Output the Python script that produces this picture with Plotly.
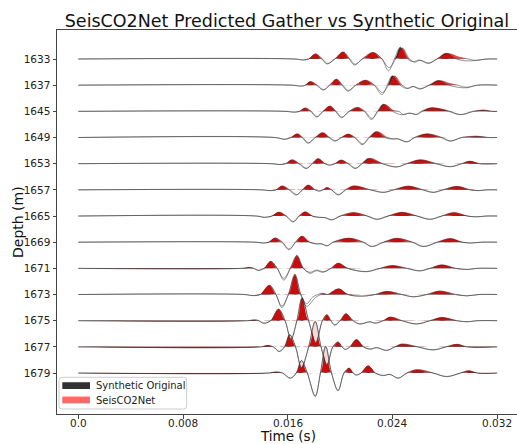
import plotly.graph_objects as go

# ---------------- data ----------------
depths = [1633, 1637, 1645, 1649, 1653, 1657, 1665, 1669, 1671, 1673, 1675, 1677, 1679]
time_ticks = [0.0, 0.008, 0.016, 0.024, 0.032]
time_tick_labels = ["0.0", "0.008", "0.016", "0.024", "0.032"]

# knots per depth: (time in ms, amplitude in trace-spacing units), positive = up
synthetic_original = [
    [(0,0),(16.5,0),(17.2,-0.04),(17.6,0),(18.1,0.18),(18.6,0),(19.0,-0.19),(19.6,0),(20.2,0.26),(20.7,0),(21.1,-0.23),(21.7,0),(22.5,0.24),(23.2,0),(23.7,-0.45),(24.15,0),(24.6,0.45),(25.15,0),(25.6,-0.1),(26.05,-0.04),(26.75,-0.17),(27.4,0),(28.1,0.22),(28.9,0),(29.6,-0.07),(30.3,-0.06),(31.2,0),(32,0)],
    [(0,0),(16.3,0),(17.05,-0.04),(17.35,0),(17.7,0.13),(18.2,0),(18.7,-0.19),(19.2,0),(19.7,0.22),(20.15,0),(20.6,-0.23),(21.2,0),(21.9,0.18),(22.6,0),(23.2,-0.36),(23.6,0),(24.0,0.36),(24.6,0),(25.1,-0.13),(25.55,-0.05),(26.1,-0.15),(26.8,0),(27.5,0.18),(28.3,0),(29.0,-0.08),(29.7,-0.1),(30.5,0),(32,0)],
    [(0,0),(15.8,0),(16.5,-0.03),(16.9,0),(17.3,0.12),(17.75,0),(18.2,-0.22),(18.7,0),(19.2,0.19),(19.65,0),(20.1,-0.24),(20.7,0),(21.3,0.14),(21.85,0),(22.4,-0.31),(22.85,0),(23.3,0.27),(24.0,0),(24.7,-0.13),(25.3,-0.07),(25.85,-0.12),(26.2,0),(26.9,0.13),(27.7,0.08),(28.3,0),(29.2,-0.13),(30.2,0),(30.9,0.04),(31.5,0),(32,0)],
    [(0,0),(15.0,0),(15.8,-0.07),(16.25,0),(16.7,0.13),(17.1,0),(17.55,-0.22),(18.1,0),(18.65,0.18),(19.15,0),(19.6,-0.14),(20.1,0),(20.6,0.12),(21.1,0),(21.7,-0.27),(22.2,0),(22.75,0.22),(23.4,0),(23.95,-0.06),(24.4,-0.05),(25.1,-0.17),(25.7,0),(26.6,0.13),(27.7,0),(28.4,-0.14),(29.3,0),(30.45,0.04),(31.3,0),(32,0)],
    [(0,0),(14.7,0),(15.4,-0.03),(15.85,0),(16.3,0.14),(16.85,0),(17.4,-0.19),(17.85,0),(18.3,0.19),(18.85,0),(19.2,-0.06),(19.6,0),(20.05,0.13),(20.6,0),(21.15,-0.19),(21.65,0),(22.15,0.2),(23.2,0),(24.3,-0.13),(25.1,0),(26.1,0.14),(27.3,0),(28.4,-0.12),(29.3,0),(29.9,0.09),(30.6,0),(32,0)],
    [(0,0),(14.0,0),(14.65,-0.03),(15.1,0),(15.55,0.14),(16.1,0),(16.65,-0.2),(17.1,0),(17.55,0.18),(18.1,0),(18.45,-0.05),(18.7,0),(19.0,0.08),(19.35,0),(19.85,-0.2),(20.4,0),(21.0,0.14),(22.3,0),(23.3,-0.1),(24.1,0),(25.2,0.14),(26.3,0),(27.1,-0.1),(27.85,0),(28.9,0.13),(29.9,0),(30.55,-0.03),(31.2,0),(32,0)],
    [(0,0),(13.6,0),(14.25,-0.05),(14.8,0),(15.3,0.14),(15.85,0),(16.4,-0.23),(16.85,0),(17.3,0.15),(17.85,0),(18.35,-0.05),(18.8,-0.06),(19.35,-0.15),(20.0,0),(21.0,0.12),(22.05,0),(22.8,-0.13),(23.65,0),(24.7,0.13),(25.85,0),(26.85,-0.13),(27.75,0),(28.65,0.12),(29.7,0),(30.4,-0.03),(31.2,0),(32,0)],
    [(0,0),(13.5,0),(14.15,-0.03),(14.55,0),(15.0,0.15),(15.55,0),(16.1,-0.29),(16.6,0),(17.05,0.22),(17.65,0),(18.2,-0.07),(18.55,-0.06),(19.0,-0.14),(19.45,0),(20.65,0.15),(21.75,0),(22.4,-0.17),(23.3,0),(24.3,0.14),(25.5,0),(26.35,-0.17),(27.4,0),(28.4,0.13),(29.3,0),(30.0,-0.03),(30.8,0),(32,0)],
    [(0,0),(12.5,0),(13.1,0.03),(13.4,0),(13.75,-0.08),(14.2,0),(14.7,0.26),(15.2,0),(15.7,-0.45),(16.2,0),(16.7,0.45),(17.2,0),(17.7,-0.19),(18.2,-0.09),(18.7,-0.15),(19.3,0),(19.85,0.19),(20.6,0),(22.0,-0.13),(23.05,0),(23.95,0.1),(25.1,0),(26.1,-0.1),(26.85,0),(27.75,0.13),(28.8,0),(29.7,-0.04),(30.5,0),(32,0)],
    [(0,0),(12.7,0),(13.35,-0.04),(13.9,0),(14.6,0.34),(15.1,0),(15.55,-0.5),(16.05,0),(16.55,0.72),(17.0,0),(17.45,-0.45),(18.1,-0.12),(18.55,0),(18.8,0.03),(19.1,0),(19.9,0.21),(20.6,0),(21.65,-0.06),(22.65,0),(23.55,0.12),(24.7,0),(25.6,-0.09),(26.6,0),(27.6,0.13),(28.8,0),(29.7,-0.05),(30.6,0),(32,0)],
    [(0,0),(12.9,0),(13.5,0.03),(13.8,0),(14.15,-0.1),(14.7,0),(15.3,0.43),(15.8,0),(16.25,-0.72),(16.7,0),(17.1,0.85),(17.6,0),(18.15,-0.85),(18.65,0),(19.0,0.22),(19.3,0),(19.6,-0.17),(20.0,0),(20.45,0.26),(21.0,0),(21.5,-0.13),(22.3,-0.04),(22.65,-0.1),(23.3,0),(23.8,0.13),(24.7,0),(25.85,-0.13),(26.85,0),(27.75,0.12),(28.9,0),(29.7,-0.04),(30.5,0),(32,0)],
    [(0,0),(13.9,0),(14.5,0.05),(14.9,0),(15.35,-0.18),(15.75,0),(16.15,0.46),(16.6,0),(17.05,-0.8),(17.6,0),(18.1,0.96),(18.55,0),(19.0,-0.69),(19.45,0),(19.85,0.18),(20.15,0),(20.4,-0.1),(20.75,0),(21.25,0.27),(21.8,0),(22.3,-0.09),(22.8,-0.03),(23.55,-0.14),(24.2,0),(24.7,0.1),(25.9,0),(27.1,-0.12),(28.1,0),(28.9,0.09),(29.7,0),(32,0)],
    [(0,0),(14.5,0),(15.15,0.04),(15.6,0),(16.2,-0.2),(16.65,0),(17.05,0.47),(17.5,0),(18.1,-0.9),(18.5,0),(18.9,1.0),(19.35,0),(19.85,-0.68),(20.3,0),(20.7,0.18),(21.0,0),(21.25,-0.08),(21.6,0),(22.15,0.27),(22.7,0),(23.3,-0.1),(23.8,-0.05),(24.45,-0.2),(25.1,0),(25.85,0.12),(27.1,0),(28.15,-0.14),(29.2,0),(29.8,0.08),(30.5,0),(32,0)],
]

seisco2net = [
    [(0,0),(16.5,0),(17.2,-0.03),(17.6,0),(18.15,0.2),(18.65,0),(19.05,-0.17),(19.6,0),(20.25,0.27),(20.75,0),(21.15,-0.2),(21.7,0),(22.55,0.25),(23.2,0),(23.75,-0.33),(24.25,0),(24.75,0.42),(25.3,0),(25.7,-0.12),(26.1,-0.05),(26.8,-0.15),(27.4,0),(28.2,0.21),(29.1,0.07),(29.8,0),(30.3,-0.05),(31.2,0),(32,0)],
    [(0,0),(16.3,0),(17.05,-0.03),(17.35,0),(17.75,0.14),(18.25,0),(18.75,-0.17),(19.2,0),(19.75,0.23),(20.2,0),(20.65,-0.2),(21.2,0),(21.95,0.19),(22.65,0),(23.25,-0.28),(23.7,0),(24.15,0.35),(24.75,0),(25.2,-0.12),(25.6,-0.05),(26.15,-0.13),(26.8,0),(27.6,0.17),(28.4,0.06),(29.0,0),(29.6,-0.08),(30.5,0),(32,0)],
    [(0,0),(15.8,0),(16.5,-0.03),(16.9,0),(17.35,0.13),(17.8,0),(18.25,-0.2),(18.7,0),(19.25,0.2),(19.7,0),(20.15,-0.22),(20.7,0),(21.35,0.15),(21.9,0),(22.45,-0.27),(22.9,0),(23.4,0.26),(24.1,0.03),(24.5,0),(24.8,-0.12),(25.3,-0.07),(25.9,-0.11),(26.3,0),(27.0,0.13),(27.8,0.08),(28.4,0),(29.2,-0.12),(30.2,0),(31.0,0.05),(31.6,0),(32,0)],
    [(0,0),(15.0,0),(15.8,-0.06),(16.25,0),(16.75,0.14),(17.15,0),(17.6,-0.2),(18.1,0),(18.7,0.18),(19.2,0),(19.65,-0.12),(20.1,0),(20.65,0.13),(21.15,0),(21.75,-0.25),(22.25,0),(22.85,0.22),(23.6,0),(24.0,-0.05),(24.4,-0.05),(25.15,-0.16),(25.7,0),(26.65,0.14),(27.8,0),(28.45,-0.13),(29.3,0),(30.5,0.05),(31.3,0),(32,0)],
    [(0,0),(14.7,0),(15.4,-0.03),(15.85,0),(16.35,0.15),(16.9,0),(17.45,-0.17),(17.9,0),(18.35,0.19),(18.85,0),(19.2,-0.05),(19.6,0),(20.1,0.14),(20.65,0),(21.2,-0.17),(21.7,0),(22.3,0.2),(23.3,0),(24.35,-0.12),(25.1,0),(26.15,0.15),(27.4,0),(28.45,-0.11),(29.3,0),(29.95,0.09),(30.7,0),(32,0)],
    [(0,0),(14.0,0),(14.65,-0.03),(15.1,0),(15.6,0.15),(16.15,0),(16.7,-0.18),(17.15,0),(17.6,0.18),(18.1,0),(18.45,-0.04),(18.7,0),(19.0,0.09),(19.35,0),(19.9,-0.18),(20.45,0),(21.05,0.15),(22.35,0),(23.35,-0.09),(24.1,0),(25.25,0.14),(26.35,0),(27.15,-0.09),(27.9,0),(28.95,0.13),(30.0,0),(30.6,-0.03),(31.2,0),(32,0)],
    [(0,0),(13.6,0),(14.25,-0.05),(14.8,0),(15.35,0.15),(15.9,0),(16.45,-0.21),(16.9,0),(17.35,0.16),(17.9,0),(18.4,-0.05),(18.85,-0.06),(19.4,-0.14),(20.05,0),(21.05,0.13),(22.1,0),(22.85,-0.12),(23.7,0),(24.75,0.14),(25.9,0),(26.9,-0.12),(27.8,0),(28.7,0.13),(29.75,0),(30.4,-0.03),(31.2,0),(32,0)],
    [(0,0),(13.5,0),(14.15,-0.03),(14.55,0),(15.05,0.16),(15.6,0),(16.1,-0.26),(16.6,0),(17.1,0.23),(17.7,0),(18.2,-0.06),(18.55,-0.06),(19.05,-0.13),(19.5,0),(20.7,0.15),(21.8,0),(22.45,-0.16),(23.35,0),(24.35,0.15),(25.55,0),(26.4,-0.16),(27.45,0),(28.45,0.14),(29.35,0),(30.0,-0.03),(30.8,0),(32,0)],
    [(0,0),(12.5,0),(13.1,0.03),(13.4,0),(13.75,-0.07),(14.2,0),(14.7,0.27),(15.2,0),(15.7,-0.38),(16.2,0),(16.7,0.5),(17.2,0),(17.7,-0.15),(18.2,-0.06),(18.7,-0.13),(19.3,0),(19.85,0.2),(20.6,0),(22.0,-0.12),(23.05,0),(24.0,0.11),(25.1,0),(26.1,-0.09),(26.9,0),(27.8,0.13),(28.85,0),(29.7,-0.04),(30.5,0),(32,0)],
    [(0,0),(12.7,0),(13.35,-0.04),(13.9,0),(14.6,0.36),(15.1,0),(15.55,-0.44),(16.05,0),(16.55,0.78),(17.0,0),(17.45,-0.35),(17.9,-0.1),(18.3,0),(18.65,0.05),(19.0,0),(19.9,0.22),(20.6,0),(21.65,-0.06),(22.7,0),(23.6,0.12),(24.75,0),(25.6,-0.08),(26.65,0),(27.65,0.13),(28.85,0),(29.7,-0.05),(30.6,0),(32,0)],
    [(0,0),(12.9,0),(13.5,0.03),(13.8,0),(14.15,-0.09),(14.7,0),(15.3,0.45),(15.8,0),(16.25,-0.7),(16.7,0),(17.1,0.88),(17.6,0),(18.15,-0.82),(18.65,0),(19.0,0.23),(19.3,0),(19.6,-0.16),(20.0,0),(20.45,0.27),(21.0,0),(21.5,-0.12),(22.3,-0.04),(22.65,-0.09),(23.3,0),(23.85,0.14),(24.75,0),(25.85,-0.12),(26.9,0),(27.8,0.12),(28.95,0),(29.7,-0.04),(30.5,0),(32,0)],
    [(0,0),(13.9,0),(14.5,0.05),(14.9,0),(15.35,-0.17),(15.75,0),(16.15,0.47),(16.6,0),(17.05,-0.78),(17.6,0),(18.1,0.98),(18.55,0),(19.0,-0.67),(19.45,0),(19.85,0.19),(20.15,0),(20.4,-0.09),(20.75,0),(21.25,0.28),(21.8,0),(22.3,-0.08),(22.8,-0.03),(23.55,-0.13),(24.2,0),(24.75,0.11),(25.95,0),(27.1,-0.11),(28.1,0),(28.95,0.1),(29.7,0),(32,0)],
    [(0,0),(14.5,0),(15.15,0.04),(15.6,0),(16.2,-0.19),(16.65,0),(17.05,0.48),(17.5,0),(18.1,-0.88),(18.5,0),(18.9,1.02),(19.35,0),(19.85,-0.66),(20.3,0),(20.7,0.19),(21.0,0),(21.25,-0.07),(21.6,0),(22.15,0.28),(22.7,0),(23.3,-0.09),(23.8,-0.05),(24.45,-0.19),(25.1,0),(25.9,0.13),(27.1,0),(28.15,-0.13),(29.2,0),(29.85,0.09),(30.5,0),(32,0)],
]

# ---------------- styling ----------------
FONT = "DejaVu Sans"
ORIG_FILL = "rgba(0,0,0,0.8)"
PRED_FILL = "rgba(255,0,0,0.75)"
NEG_FILL = "rgba(255,255,255,0.6)"
LINE_COL = "rgba(50,50,50,0.6)"

fig = go.Figure()


def series(knots, base, mode):
    t = [k[0] / 1000.0 for k in knots]
    if mode == "pos":
        y = [base + max(k[1], 0.0) for k in knots]
    elif mode == "neg":
        y = [base + min(k[1], 0.0) for k in knots]
    else:
        y = [base + k[1] for k in knots]
    return t, y


def add_fill(knots, base, mode, color):
    fig.add_trace(go.Scatter(x=[0.0, 0.032], y=[base, base], mode="lines",
                             line=dict(width=0, color="rgba(0,0,0,0)"),
                             showlegend=False, hoverinfo="skip"))
    t, y = series(knots, base, mode)
    fig.add_trace(go.Scatter(x=t, y=y, mode="lines", fill="tonexty", fillcolor=color,
                             line=dict(width=0, color="rgba(0,0,0,0)", shape="spline", smoothing=1.0),
                             showlegend=False, hoverinfo="skip"))


# positive fills
for i in range(len(depths)):
    add_fill(synthetic_original[i], -i, "pos", ORIG_FILL)
    add_fill(seisco2net[i], -i, "pos", PRED_FILL)

# negative (white translucent) fills
for i in range(len(depths)):
    add_fill(synthetic_original[i], -i, "neg", NEG_FILL)
    add_fill(seisco2net[i], -i, "neg", NEG_FILL)

# wiggle lines
for i in range(len(depths)):
    for knots in (synthetic_original[i], seisco2net[i]):
        t, y = series(knots, -i, "full")
        fig.add_trace(go.Scatter(x=t, y=y, mode="lines",
                                 line=dict(width=0.85, color=LINE_COL, shape="spline", smoothing=1.0),
                                 showlegend=False, hoverinfo="skip"))

# ---------------- layout ----------------
W, H = 517, 444
L, R, T, B = 57, 0, 30, 30
PW, PH = W - L - R, H - T - B


def px(X):
    return (X - L) / PW


def py(Y):
    return (H - B - Y) / PH


fig.update_layout(
    width=W, height=H,
    margin=dict(l=L, r=R, t=T, b=B, pad=0),
    paper_bgcolor="white", plot_bgcolor="white",
    font=dict(family=FONT, size=10.5, color="#222"),
    showlegend=False,
    title=dict(text="SeisCO2Net Predicted Gather vs Synthetic Original",
               font=dict(family=FONT, size=17.5, color="#111"),
               x=px(287), xref="paper", xanchor="center",
               y=1 - 21 / H, yref="container", yanchor="middle"),
)

fig.update_xaxes(range=[-0.001627, 0.03352], showgrid=False, zeroline=False,
                 showline=True, linecolor="#444", linewidth=1, mirror=True,
                 ticks="outside", ticklen=3.5, tickwidth=1, tickcolor="#444",
                 tickvals=time_ticks, showticklabels=False)
fig.update_yaxes(range=[-13.565, 1.108], showgrid=False, zeroline=False,
                 showline=True, linecolor="#444", linewidth=1, mirror=False,
                 ticks="outside", ticklen=3.5, tickwidth=1, tickcolor="#444",
                 tickvals=[-i for i in range(len(depths))],
                 ticktext=[str(d) for d in depths],
                 tickfont=dict(family=FONT, size=10.5, color="#222"))

# x tick labels placed like the reference
for tv, tl in zip(time_ticks, time_tick_labels):
    fig.add_annotation(text=tl, xref="x", yref="paper", x=tv, y=py(423),
                       showarrow=False, xanchor="center", yanchor="middle",
                       font=dict(family=FONT, size=10.5, color="#222"))

# axis titles
fig.add_annotation(text="Time (s)", xref="paper", yref="paper", x=px(288), y=py(436),
                   showarrow=False, xanchor="center", yanchor="middle",
                   font=dict(family=FONT, size=13.5, color="#111"))
fig.add_annotation(text="Depth (m)", xref="paper", yref="paper", x=px(18), y=py(222),
                   showarrow=False, xanchor="center", yanchor="middle", textangle=-90,
                   font=dict(family=FONT, size=14, color="#111"))

# legend box (drawn manually to match handle sizes)
bx0, bx1, by0, by1, r = 59, 186.7, 377.3, 409, 3
x0, x1 = px(bx0), px(bx1)
ya, yb = py(by0), py(by1)
rx, ry = r / PW, r / PH
path = (f"M {x0+rx},{ya} L {x1-rx},{ya} Q {x1},{ya} {x1},{ya-ry} "
        f"L {x1},{yb+ry} Q {x1},{yb} {x1-rx},{yb} L {x0+rx},{yb} "
        f"Q {x0},{yb} {x0},{yb+ry} L {x0},{ya-ry} Q {x0},{ya} {x0+rx},{ya} Z")
fig.add_shape(type="path", path=path, xref="paper", yref="paper",
              fillcolor="rgba(255,255,255,0.8)", line=dict(color="#cccccc", width=1), layer="above")
legend_items = [("Synthetic Original", "rgba(0,0,0,0.8)", 385.6), ("SeisCO2Net", "#ff6666", 400.0)]
for label, col, yc in legend_items:
    fig.add_shape(type="rect", xref="paper", yref="paper",
                  x0=px(62.3), x1=px(90), y0=py(yc - 3.4), y1=py(yc + 3.4),
                  fillcolor=col, line=dict(width=0), layer="above")
    fig.add_annotation(text=label, xref="paper", yref="paper", x=px(94.3), y=py(yc),
                       showarrow=False, xanchor="left", yanchor="middle",
                       font=dict(family=FONT, size=10, color="#222"))

fig.write_html("out.html")
